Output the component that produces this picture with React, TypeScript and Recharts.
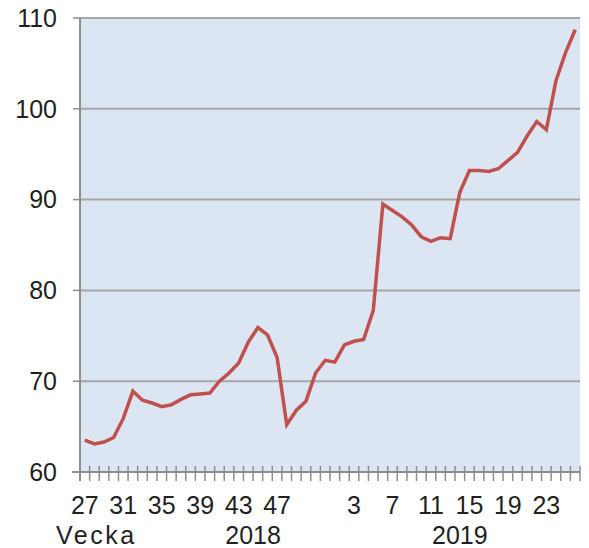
import { CartesianGrid, Line, LineChart, XAxis, YAxis } from "recharts";

const WEEKS = [
  "27", "28", "29", "30", "31", "32", "33", "34", "35", "36", "37", "38", "39",
  "40", "41", "42", "43", "44", "45", "46", "47", "48", "49", "50", "51", "52",
  "1", "2", "3", "4", "5", "6", "7", "8", "9", "10", "11", "12", "13",
  "14", "15", "16", "17", "18", "19", "20", "21", "22", "23", "24", "25", "26",
];

const INDEX_VALUES = [
  63.5, 63.1, 63.3, 63.8, 65.9, 68.9, 67.9, 67.6, 67.2, 67.4, 68.0, 68.5, 68.6,
  68.7, 70.0, 70.9, 72.0, 74.3, 75.9, 75.1, 72.6, 65.2, 66.8, 67.8, 70.9, 72.3,
  72.1, 74.0, 74.4, 74.6, 77.8, 89.5, 88.8, 88.1, 87.2, 85.9, 85.4, 85.8, 85.7,
  90.8, 93.2, 93.2, 93.1, 93.4, 94.3, 95.2, 97.0, 98.6, 97.7, 103.1, 106.2, 108.7,
];

const SHOWN_WEEKS = ["27", "31", "35", "39", "43", "47", "3", "7", "11", "15", "19", "23"];
const Y_TICKS = [60, 70, 80, 90, 100, 110];
// year label sits under these weeks
const YEAR_LABELS: Record<string, string> = { "44": "2018", "14": "2019" };

const W = 589;
const H = 548;
const PLOT_LEFT = 80;
const PLOT_RIGHT = 580;
const BAND = (PLOT_RIGHT - PLOT_LEFT) / WEEKS.length;

const AXIS_GRAY = "#8e8e8e";
const TEXT = "#231f20";
const FONT = "'Liberation Sans', Arial, sans-serif";

const data = WEEKS.map((week, i) => ({ week, value: INDEX_VALUES[i] }));

function WeekTick(props: any) {
  const { x, y, payload, index } = props;
  const week = String(payload.value);
  const right = x + BAND / 2;
  const year = YEAR_LABELS[week];
  return (
    <g>
      <line x1={right} x2={right} y1={y - 6} y2={y + 9} stroke={AXIS_GRAY} strokeWidth={1.5} />
      {index === 0 && (
        <>
          <line x1={x - BAND / 2} x2={x - BAND / 2} y1={y} y2={y + 9} stroke={AXIS_GRAY} strokeWidth={2} />
          <line x1={72} x2={x - BAND / 2} y1={y} y2={y} stroke={AXIS_GRAY} strokeWidth={2} />
          <text x={56} y={y + 72} fontSize={25} fill={TEXT} fontFamily={FONT} letterSpacing={2.5}>
            Vecka
          </text>
        </>
      )}
      {SHOWN_WEEKS.includes(week) && (
        <text x={x} y={y + 42} textAnchor="middle" fontSize={25} fill={TEXT} fontFamily={FONT}>
          {week}
        </text>
      )}
      {year && (
        <text x={week === "44" ? right : x} y={y + 72} textAnchor="middle" fontSize={25} fill={TEXT} fontFamily={FONT}>
          {year}
        </text>
      )}
    </g>
  );
}

export default function App() {
  const pad = { left: BAND / 2, right: BAND / 2 };
  return (
    <div style={{ width: W, height: H }}>
      <style>{`body{margin:0}`}</style>
      <LineChart width={W} height={H} data={data} margin={{ top: 18, right: W - PLOT_RIGHT, bottom: 0, left: 0 }}>
        <CartesianGrid vertical={false} fill="#dce6f2" stroke="#a6a6a6" strokeWidth={2} />
        <XAxis
          dataKey="week"
          height={76}
          interval={0}
          padding={pad}
          tickSize={0}
          tickMargin={0}
          tickLine={false}
          axisLine={{ stroke: AXIS_GRAY, strokeWidth: 2 }}
          tick={<WeekTick />}
        />
        <XAxis xAxisId="top" dataKey="week" orientation="top" height={0} padding={pad} tick={false} tickLine={false} axisLine={{ stroke: "#333333", strokeWidth: 2 }} />
        <YAxis
          width={PLOT_LEFT}
          domain={[60, 110]}
          ticks={Y_TICKS}
          interval={0}
          tickSize={7}
          tickMargin={16}
          axisLine={{ stroke: AXIS_GRAY, strokeWidth: 2 }}
          tickLine={{ stroke: AXIS_GRAY, strokeWidth: 1.5 }}
          tick={{ fontSize: 25, fill: TEXT, fontFamily: FONT }}
        />
        <YAxis yAxisId="right" orientation="right" width={0} domain={[60, 110]} tick={false} tickLine={false} axisLine={{ stroke: "#333333", strokeWidth: 2 }} />
        <Line type="linear" dataKey="value" stroke="#c0504d" strokeWidth={3.5} dot={false} activeDot={false} isAnimationActive={false} />
      </LineChart>
    </div>
  );
}
